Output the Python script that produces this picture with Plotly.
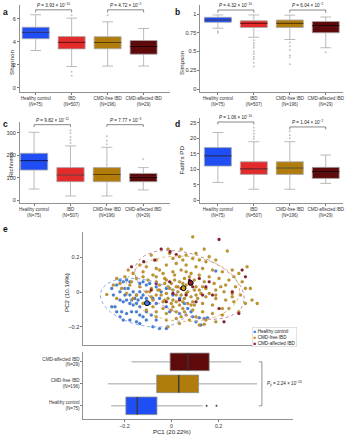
import numpy as np
import plotly.graph_objects as go

W, H = 345, 440
FONT = "Liberation Sans, Arial, sans-serif"

# ---------------- data ----------------
groups = ["Healthy control", "IBD", "CMD-free IBD", "CMD-affected IBD"]
group_n = [75, 507, 196, 29]
box_fill = ["#1f4ef5", "#e32b2b", "#b07d0d", "#5e0a0a"]
box_median = ["#0b1c78", "#7a0f0f", "#5a3e00", "#250000"]

# five-number summaries per group: [lower whisker, Q1, median, Q3, upper whisker]
shannon_box = [[3.25, 4.27, 4.84, 5.27, 6.35], [1.86, 3.39, 3.96, 4.46, 6.06],
               [1.90, 3.40, 3.95, 4.45, 5.74], [1.90, 2.93, 3.60, 4.12, 5.16]]
shannon_out = [[], [1.05, 1.4, 6.3], [6.3], []]
shannon_p = ["3.93 × 10<sup>−10</sup>", "4.72 × 10<sup>−2</sup>"]

simpson_box = [[0.81, 0.889, 0.92, 0.956, 0.987], [0.69, 0.82, 0.875, 0.91, 0.987],
               [0.66, 0.82, 0.875, 0.92, 0.985], [0.55, 0.75, 0.845, 0.90, 0.96]]
simpson_out = [[0.77, 0.75], [0.65, 0.61, 0.58, 0.55, 0.5, 0.47, 0.43, 0.4, 0.35, 0.3],
               [0.62, 0.57, 0.52, 0.45, 0.42, 0.33], [0.49]]
simpson_p = ["4.32 × 10<sup>−10</sup>", "6.04 × 10<sup>−2</sup>"]

richness_box = [[49, 134, 176, 209, 303], [18, 82, 112, 145, 242],
                [18, 82, 114, 145, 236], [45, 82, 101, 119, 145]]
richness_out = [[], [255, 268, 282, 300, 312], [250, 265, 285], [182]]
richness_p = ["9.82 × 10<sup>−11</sup>", "7.77 × 10<sup>−3</sup>"]

faith_box = [[5.7, 11.0, 14.3, 17.0, 21.9], [3.5, 8.3, 10.1, 12.4, 18.9],
             [3.5, 8.3, 10.4, 12.4, 18.9], [5.4, 7.0, 9.2, 10.6, 14.6]]
faith_out = [[], [19.8, 20.6, 21.5, 22.5, 23.5], [20.0, 21.0, 22.3], []]
faith_p = ["1.06 × 10<sup>−10</sup>", "1.04 × 10<sup>−2</sup>"]

# PCoA points (PC1, PC2)
hc_pc1 = [-0.254, -0.247, -0.240, -0.254, -0.233, -0.219, -0.205, -0.191, -0.177, -0.198,
          -0.184, -0.219, -0.198, -0.177, -0.163, -0.149, -0.135, -0.170, -0.156, -0.142,
          -0.128, -0.121, -0.107, -0.219, -0.205, -0.191, -0.177, -0.163, -0.149, -0.135,
          -0.233, -0.212, -0.191, -0.170, -0.149, -0.135, -0.107, -0.086, -0.205, -0.177,
          -0.149, -0.121, -0.135, -0.107, -0.079, -0.051, -0.022, -0.065, -0.093, -0.079,
          -0.065, -0.051, -0.107, -0.093, -0.121, -0.135, -0.065, -0.044, -0.022, 0.006,
          0.034, 0.055, 0.069, 0.090, 0.118, 0.139, 0.153, 0.104, 0.125, 0.083,
          0.188, -0.022, -0.008, 0.034, -0.219]
hc_pc2 = [0.021, -0.017, -0.085, -0.085, 0.041, 0.070, 0.060, 0.070, 0.060, 0.021,
          0.021, 0.002, -0.017, -0.017, 0.002, -0.017, 0.002, -0.046, -0.037, -0.046,
          -0.033, -0.017, -0.037, -0.046, -0.056, -0.046, -0.066, -0.075, -0.066, -0.085,
          -0.114, -0.114, -0.124, -0.114, -0.114, -0.133, -0.114, -0.133, -0.162, -0.162,
          -0.172, -0.143, -0.182, -0.162, -0.201, -0.211, -0.211, -0.162, -0.066, -0.037,
          -0.066, -0.037, 0.041, 0.050, 0.060, 0.050, 0.031, 0.002, 0.021, -0.017,
          -0.037, -0.066, -0.095, -0.143, -0.149, -0.153, -0.149, -0.172, -0.191, -0.114,
          0.122, -0.085, -0.114, -0.124, -0.143]

cf_pc1 = [-0.015, 0.041, 0.139, 0.237, -0.086, -0.065, 0.006, 0.034, 0.062, 0.090,
          0.118, 0.146, 0.188, 0.258, 0.321, -0.135, -0.107, -0.065, -0.022, 0.020,
          0.062, 0.104, 0.132, 0.174, 0.216, 0.265, 0.286, -0.184, -0.163, -0.121,
          -0.079, -0.036, 0.006, 0.041, 0.083, 0.118, 0.160, 0.202, 0.244, 0.300,
          0.335, -0.233, -0.198, -0.149, -0.100, -0.065, -0.029, 0.013, 0.055, 0.097,
          0.139, 0.181, 0.230, 0.272, 0.314, -0.275, -0.247, -0.212, -0.177, -0.135,
          -0.086, -0.051, -0.008, 0.027, 0.062, 0.104, 0.146, 0.188, 0.223, 0.258,
          0.293, 0.342, 0.364, 0.314, -0.233, -0.191, -0.149, -0.107, -0.065, -0.022,
          0.020, 0.062, 0.104, 0.146, 0.188, 0.230, 0.265, -0.079, -0.036, 0.006,
          0.048, 0.090, 0.132, 0.174, 0.216, -0.121, -0.079, -0.036, 0.006, 0.048,
          0.090, 0.132, 0.174, 0.216, -0.107, -0.065, -0.022, 0.020, 0.062, 0.104,
          0.146, 0.188, -0.065, -0.022, 0.020, 0.041, 0.076, 0.118, 0.139, -0.015,
          0.034, 0.083, -0.086, -0.051, -0.001, 0.118, 0.160, 0.258, 0.209, -0.170,
          -0.121, -0.051, 0.048, -0.008, 0.104, 0.160, 0.062, 0.188, 0.244, 0.286,
          -0.163, -0.219, 0.090,
          -0.029, -0.015, 0.006, 0.027, 0.041, 0.055, 0.069, 0.083, 0.097, 0.111,
          -0.015, -0.001, 0.020, 0.034, 0.055, 0.069, -0.044, -0.029, -0.058, -0.022,
          0.034, 0.076, 0.013, 0.132, 0.125, -0.065, -0.093, -0.001, 0.055, 0.097,
          0.020, 0.048]
cf_pc2 = [0.249, 0.249, 0.249, 0.238, 0.214, 0.186, 0.195, 0.205, 0.214, 0.195,
          0.186, 0.176, 0.186, 0.128, 0.147, 0.157, 0.147, 0.137, 0.157, 0.166,
          0.157, 0.147, 0.137, 0.128, 0.118, 0.089, 0.108, 0.128, 0.108, 0.118,
          0.099, 0.108, 0.118, 0.128, 0.108, 0.099, 0.089, 0.079, 0.070, 0.060,
          0.021, 0.079, 0.089, 0.079, 0.070, 0.060, 0.079, 0.070, 0.079, 0.070,
          0.060, 0.050, 0.041, 0.031, 0.021, -0.014, 0.041, 0.021, 0.041, 0.031,
          0.021, 0.012, 0.021, 0.031, 0.041, 0.031, 0.021, 0.012, 0.002, -0.008,
          -0.017, -0.046, -0.066, -0.066, -0.037, -0.008, -0.017, 0.002, -0.017, -0.008,
          -0.017, -0.008, -0.017, -0.027, -0.037, -0.046, -0.056, -0.046, -0.056, -0.046,
          -0.056, -0.056, -0.066, -0.075, -0.095, -0.066, -0.085, -0.095, -0.085, -0.095,
          -0.104, -0.114, -0.124, -0.133, -0.104, -0.114, -0.124, -0.114, -0.133, -0.143,
          -0.162, -0.172, -0.143, -0.162, -0.153, -0.143, -0.162, -0.191, -0.187, -0.201,
          -0.182, -0.075, -0.027, 0.041, 0.050, 0.012, -0.008, -0.027, 0.031, 0.060,
          0.089, 0.128, 0.186, 0.224, 0.224, 0.205, 0.118, -0.017, -0.095, -0.114,
          -0.037, 0.050, 0.320,
          0.050, 0.031, 0.012, 0.002, -0.017, 0.021, 0.002, -0.027, 0.012, -0.037,
          -0.037, -0.066, -0.056, -0.075, -0.037, -0.066, -0.017, -0.046, 0.012, 0.070,
          0.060, 0.089, 0.099, 0.031, -0.008, 0.089, 0.002, -0.104, -0.114, -0.075,
          0.031, 0.050]

ca_pc1 = [0.202, -0.044, -0.006, 0.020, -0.072, -0.118, -0.170, 0.300, 0.118, -0.008,
          0.076, 0.160, -0.065, 0.090, 0.258, 0.006, 0.062, 0.132, 0.174, 0.034,
          -0.022, 0.202, 0.286, 0.223, 0.314, 0.104, -0.086, 0.146, 0.041]
ca_pc2 = [0.305, 0.249, 0.234, 0.218, 0.186, 0.176, 0.147, 0.128, 0.079, 0.060,
          0.070, 0.060, 0.050, 0.031, 0.002, -0.008, -0.017, -0.017, -0.017, -0.046,
          -0.056, -0.095, -0.124, -0.172, 0.089, -0.056, 0.012, 0.031, 0.021]

# PC1 distribution per group (bottom of panel e): [low, Q1, median, Q3, high]
pc1_groups = ["Healthy control", "CMD-free IBD", "CMD-affected IBD"]
pc1_n = [75, 196, 29]
pc1_box = [[-0.257, -0.194, -0.146, -0.062, 0.132],
           [-0.271, -0.063, 0.031, 0.115, 0.364],
           [-0.170, -0.006, 0.069, 0.160, 0.296]]
pc1_out = [[0.149, 0.191], [], []]
pc1_p = "2.24 × 10<sup>−16</sup>"

pc_fill = ["#1f4ef5", "#b07d0d", "#5e0a0a"]
pt_color = ["#3f7fe6", "#c9961f", "#8e1b2e"]
ell_color = ["#86a9ee", "#dcbb7a", "#c48a95"]
ELLIPSE_LEVEL = 0.85

# ---------------- helpers ----------------
def dom_x(p0, p1):
    return [p0 / W, p1 / W]

def dom_y(p0, p1):  # p0 top pixel, p1 bottom pixel
    return [1 - p1 / H, 1 - p0 / H]

def cov_trob(X, nu=5, maxit=25, tol=0.01):
    n, p = X.shape
    loc = X.mean(axis=0)
    w = np.ones(n)
    X0 = X - loc
    for _ in range(maxit):
        w0 = w
        X0 = X - loc
        A = np.sqrt(w / w.sum())[:, None] * X0
        _, S, Vt = np.linalg.svd(A, full_matrices=False)
        wX = X0 @ Vt.T @ np.diag(1 / S)
        Q = (wX ** 2).sum(axis=1)
        w = (nu + p) / (nu + Q)
        loc = (w[:, None] * X).sum(axis=0) / w.sum()
        if np.all(np.abs(w - w0) < tol):
            break
    B = np.sqrt(w)[:, None] * X0
    return B.T @ B / n, loc

def conf_ellipse(xs, ys, level=ELLIPSE_LEVEL, npts=120):
    pts = np.column_stack([xs, ys])
    n = len(pts)
    cov, c = cov_trob(pts)
    d2 = n - 1
    qf = (d2 / 2) * ((1 - level) ** (-2 / d2) - 1)  # F(2, n-1) quantile
    r = np.sqrt(2 * qf)
    t = np.linspace(0, 2 * np.pi, npts)
    circ = np.column_stack([np.cos(t), np.sin(t)])
    L = np.linalg.cholesky(cov)
    e = c + r * circ @ L.T
    return e[:, 0], e[:, 1]

fig = go.Figure()
annotations = []
layout = {}
AX = dict(showline=True, linecolor="#777", linewidth=0.8, showgrid=False, zeroline=False,
          fixedrange=True, ticks="outside", ticklen=2, tickcolor="#777",
          ticklabeloverflow="allow")

def add_panel(idx, boxes, outs, pvals, bracket_y, tick_d, xdom, ydom, xr, yr,
              ytickvals, yticktext, ytitle, ytitle_pos, letter, letter_pos):
    sx = "" if idx == 1 else str(idx)
    xa, ya = "x" + sx, "y" + sx
    for i, b in enumerate(boxes):
        fig.add_trace(go.Box(
            x=[i], lowerfence=[b[0]], q1=[b[1]], median=[b[2]], q3=[b[3]], upperfence=[b[4]],
            width=0.75, whiskerwidth=0.4, fillcolor=box_fill[i],
            line=dict(color="#a8a8a8", width=0.8), xaxis=xa, yaxis=ya, showlegend=False,
            hoverinfo="skip"))
        fig.add_trace(go.Scatter(
            x=[i - 0.375, i + 0.375], y=[b[2], b[2]], mode="lines",
            line=dict(color=box_median[i], width=1.1), xaxis=xa, yaxis=ya,
            showlegend=False, hoverinfo="skip"))
        if outs[i]:
            fig.add_trace(go.Scatter(
                x=[i] * len(outs[i]), y=outs[i], mode="markers",
                marker=dict(color="#c4c4c4", size=2), xaxis=xa, yaxis=ya,
                showlegend=False, hoverinfo="skip"))
    for k, (a, bb) in enumerate([(0, 1), (2, 3)]):
        h = bracket_y[k]
        fig.add_trace(go.Scatter(
            x=[a, a, bb, bb], y=[h - tick_d, h, h, h - tick_d], mode="lines",
            line=dict(color="#555555", width=0.7), xaxis=xa, yaxis=ya,
            showlegend=False, hoverinfo="skip", cliponaxis=False))
        annotations.append(dict(
            x=(a + bb) / 2, y=h, xref=xa, yref=ya, showarrow=False,
            text="<i>P</i> = " + pvals[k], font=dict(size=4.6, color="#222"),
            yanchor="bottom", yshift=0))
    layout["xaxis" + sx] = dict(
        domain=xdom, range=xr, anchor=ya, tickvals=[0, 1, 2, 3],
        ticktext=[f"{g}<br>(N={n})" for g, n in zip(groups, group_n)],
        tickangle=0, tickfont=dict(size=4.5, color="#333"), **AX)
    layout["yaxis" + sx] = dict(
        domain=ydom, range=yr, anchor=xa, tickvals=ytickvals, ticktext=yticktext,
        tickfont=dict(size=5.6, color="#333"), **AX)
    annotations.append(dict(
        x=ytitle_pos[0] / W, y=1 - ytitle_pos[1] / H, xref="paper", yref="paper",
        text=ytitle, textangle=-90, showarrow=False, font=dict(size=6.2, color="#222")))
    annotations.append(dict(
        x=letter_pos[0] / W, y=1 - letter_pos[1] / H, xref="paper", yref="paper",
        text=f"<b>{letter}</b>", showarrow=False, xanchor="left",
        font=dict(size=8.5, color="#111")))

add_panel(1, shannon_box, shannon_out, shannon_p, [6.78, 6.78], 0.23,
          dom_x(19, 170), dom_y(5, 92), [-0.44, 3.72], [-0.35, 7.2],
          [0, 2, 4, 6], ["0", "2", "4", "6"], "Shannon", (5, 48), "a", (0, 5))
add_panel(2, simpson_box, simpson_out, simpson_p, [1.053, 1.053], 0.036,
          dom_x(201, 345), dom_y(5, 92), [-0.49, 3.48], [-0.04, 1.12],
          [0, 0.25, 0.5, 0.75, 1], ["0", "0.25", "0.5", "0.75", "1"], "Simpson",
          (182, 48), "b", (174, 5))
add_panel(3, richness_box, richness_out, richness_p, [337, 337], 10,
          dom_x(19, 170), dom_y(122, 203), [-0.39, 3.72], [-13.4, 349],
          [0, 100, 200, 300], ["0", "100", "200", "300"], "Richness", (4, 165), "c", (0, 117))
add_panel(4, faith_box, faith_out, faith_p, [25.3, 23.7], 0.8,
          dom_x(201, 345), dom_y(118, 203), [-0.49, 3.48], [-0.97, 26.6],
          [0, 5, 10, 15, 20, 25], ["0", "5", "10", "15", "20", "25"], "Faith's PD",
          (182, 160), "d", (174, 117))

# ---------------- panel e: scatter ----------------
pcx = [hc_pc1, cf_pc1, ca_pc1]
pcy = [hc_pc2, cf_pc2, ca_pc2]
for g in range(3):
    fig.add_trace(go.Scatter(
        x=pcx[g], y=pcy[g], mode="markers", xaxis="x5", yaxis="y5",
        marker=dict(color=pt_color[g], size=3.1, line=dict(color="rgba(60,60,60,0.5)", width=0.3)),
        showlegend=False, hoverinfo="skip"))
for g in range(3):
    ex, ey = conf_ellipse(pcx[g], pcy[g])
    fig.add_trace(go.Scatter(
        x=ex, y=ey, mode="lines", xaxis="x5", yaxis="y5",
        line=dict(color=ell_color[g], width=1, dash="dot"),
        showlegend=False, hoverinfo="skip", cliponaxis=False))
for g in range(3):
    fig.add_trace(go.Scatter(
        x=[float(np.mean(pcx[g]))], y=[float(np.mean(pcy[g]))], mode="markers",
        xaxis="x5", yaxis="y5",
        marker=dict(color=pt_color[g], size=5, line=dict(color="black", width=1)),
        showlegend=False, hoverinfo="skip"))

e_xdom = dom_x(83, 295)
e_xr = [-0.375, 0.518]
layout["xaxis5"] = dict(domain=e_xdom, range=e_xr, anchor="y5", showticklabels=False,
                        **{**AX, "ticks": ""})
layout["yaxis5"] = dict(domain=dom_y(232, 345), range=[-0.307, 0.348], anchor="x5",
                        tickvals=[-0.2, 0, 0.2], ticktext=["−0.2", "0", "0.2"],
                        tickfont=dict(size=5.6, color="#333"), **AX)

legend_text = "<br>".join(
    f"<span style='color:{pt_color[i]}'>■</span> {name}"
    for i, name in enumerate(pc1_groups))
annotations.append(dict(
    x=253 / W, y=1 - 326.5 / H, xref="paper", yref="paper", xanchor="left", yanchor="top",
    text=legend_text, align="left", showarrow=False, font=dict(size=4.6, color="#222"),
    bordercolor="#cfcfcf", borderwidth=0.6, borderpad=1, bgcolor="white"))

annotations.append(dict(x=60 / W, y=1 - 292 / H, xref="paper", yref="paper",
                        text="PC2 (10.16%)", textangle=-90, showarrow=False,
                        font=dict(size=6.2, color="#222")))
annotations.append(dict(x=0 / W, y=1 - 229 / H, xref="paper", yref="paper",
                        text="<b>e</b>", showarrow=False, xanchor="left",
                        font=dict(size=8.5, color="#111")))

# ---------------- panel e: PC1 boxes ----------------
for i, b in enumerate(pc1_box):
    fig.add_trace(go.Box(
        y=[i], lowerfence=[b[0]], q1=[b[1]], median=[b[2]], q3=[b[3]], upperfence=[b[4]],
        orientation="h", width=0.8, whiskerwidth=0, fillcolor=pc_fill[i],
        line=dict(color="#8a8a8a", width=0.8), xaxis="x6", yaxis="y6",
        showlegend=False, hoverinfo="skip"))
    fig.add_trace(go.Scatter(
        x=[b[2], b[2]], y=[i - 0.4, i + 0.4], mode="lines",
        line=dict(color="#1a1a1a", width=1), xaxis="x6", yaxis="y6",
        showlegend=False, hoverinfo="skip"))
    if pc1_out[i]:
        fig.add_trace(go.Scatter(
            x=pc1_out[i], y=[i] * len(pc1_out[i]), mode="markers",
            marker=dict(color="#444", size=2), xaxis="x6", yaxis="y6",
            showlegend=False, hoverinfo="skip"))

bx = max(b[4] for b in pc1_box) + 0.02
fig.add_trace(go.Scatter(
    x=[bx - 0.013, bx, bx, bx - 0.013], y=[2, 2, 0, 0], mode="lines",
    line=dict(color="#777", width=0.8), xaxis="x6", yaxis="y6",
    showlegend=False, hoverinfo="skip", cliponaxis=False))
annotations.append(dict(x=bx + 0.012, y=1, xref="x6", yref="y6", xanchor="left",
                        text="<i>P</i><sub>jt</sub> = " + pc1_p, showarrow=False,
                        font=dict(size=4.6, color="#222")))

layout["xaxis6"] = dict(domain=e_xdom, range=e_xr, anchor="y6",
                        tickvals=[-0.2, 0, 0.2], ticktext=["−0.2", "0", "0.2"],
                        tickfont=dict(size=5.3, color="#333"), **AX)
layout["yaxis6"] = dict(domain=dom_y(352, 419), range=[-0.6, 2.45], anchor="x6",
                        tickvals=[0, 1, 2],
                        ticktext=[f"{g}<br>(N={n})" for g, n in zip(pc1_groups, pc1_n)],
                        tickfont=dict(size=4.6, color="#333"), **AX)
annotations.append(dict(x=172 / W, y=1 - 436.5 / H, xref="paper", yref="paper",
                        text="PC1 (20.22%)", showarrow=False,
                        font=dict(size=6.0, color="#222")))

fig.update_layout(
    width=W, height=H, margin=dict(l=0, r=0, t=0, b=0),
    paper_bgcolor="white", plot_bgcolor="white", showlegend=False, hovermode=False,
    font=dict(family=FONT, size=6, color="#333"),
    annotations=annotations, **layout)

fig.write_html(
    "out.html",
    config={"displayModeBar": False, "staticPlot": True},
    post_script="document.body.style.margin='0';document.body.style.overflow='hidden';")
